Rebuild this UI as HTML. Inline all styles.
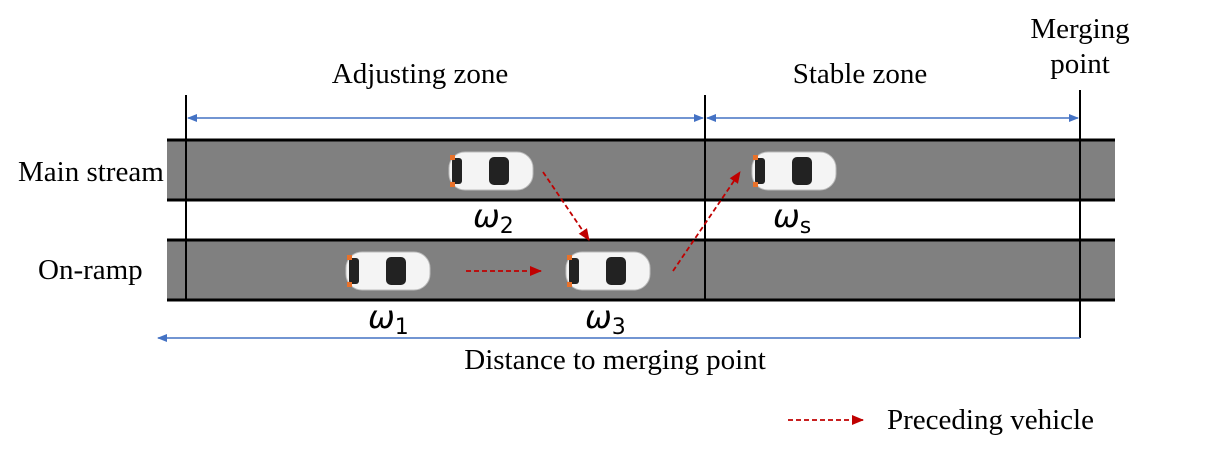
<!DOCTYPE html>
<html><head><meta charset="utf-8"><style>
body{margin:0;background:#fff}
svg text{font-family:"Liberation Serif",serif;font-size:29px;fill:#000}
.w{font-family:"DejaVu Sans","Liberation Sans",sans-serif;font-style:italic;font-size:32px}
.sub{font-size:22px;font-style:normal}
</style></head><body>
<svg width="1210" height="455" viewBox="0 0 1210 455">
<defs>
<marker id="ab" markerWidth="10" markerHeight="8" refX="9" refY="4" orient="auto-start-reverse" markerUnits="userSpaceOnUse"><path d="M0,0L10,4L0,8z" fill="#4472c4"/></marker>
<marker id="ar" markerWidth="12" markerHeight="10" refX="11" refY="5" orient="auto" markerUnits="userSpaceOnUse"><path d="M0,0L12,5L0,10z" fill="#c00000"/></marker>
<g id="car">
<rect x="0" y="0" width="84" height="38" rx="16" fill="#f4f4f4" stroke="#bbb"/>
<rect x="3" y="6" width="10" height="26" rx="3" fill="#222"/>
<rect x="40" y="5" width="20" height="28" rx="5" fill="#222"/>
<rect x="1" y="3" width="5" height="5" fill="#e8712a"/><rect x="1" y="30" width="5" height="5" fill="#e8712a"/>
</g>
</defs>
<g>
<rect x="167" y="140" width="948" height="60" fill="#808080"/>
<line x1="167" y1="140" x2="1115" y2="140" stroke="#000" stroke-width="3"/>
<line x1="167" y1="200" x2="1115" y2="200" stroke="#000" stroke-width="3"/>
</g>
<g>
<rect x="167" y="240" width="948" height="60" fill="#808080"/>
<line x1="167" y1="240" x2="1115" y2="240" stroke="#000" stroke-width="3"/>
<line x1="167" y1="300" x2="1115" y2="300" stroke="#000" stroke-width="3"/>
</g>
<line x1="186" y1="95" x2="186" y2="300" stroke="#000" stroke-width="2"/>
<line x1="705" y1="95" x2="705" y2="300" stroke="#000" stroke-width="2"/>
<line x1="1080" y1="90" x2="1080" y2="338" stroke="#000" stroke-width="2"/>
<line x1="188" y1="118" x2="703" y2="118" stroke="#4472c4" stroke-width="1.5" marker-start="url(#ab)" marker-end="url(#ab)"/>
<line x1="707" y1="118" x2="1078" y2="118" stroke="#4472c4" stroke-width="1.5" marker-start="url(#ab)" marker-end="url(#ab)"/>
<line x1="1080" y1="338" x2="158" y2="338" stroke="#4472c4" stroke-width="1.5" marker-end="url(#ab)"/>
<use href="#car" x="449" y="152"/>
<use href="#car" x="752" y="152"/>
<use href="#car" x="346" y="252"/>
<use href="#car" x="566" y="252"/>
<g stroke="#c00000" stroke-width="1.8" stroke-dasharray="5,3" fill="none">
<line x1="543" y1="172" x2="589" y2="240" marker-end="url(#ar)"/>
<line x1="466" y1="271" x2="541" y2="271" marker-end="url(#ar)"/>
<line x1="673" y1="271" x2="740" y2="172" marker-end="url(#ar)"/>
<line x1="788" y1="420" x2="863" y2="420" marker-end="url(#ar)"/>
</g>
<text x="420" y="83" text-anchor="middle">Adjusting zone</text>
<text x="860" y="83" text-anchor="middle">Stable zone</text>
<text x="1080" y="38" text-anchor="middle">Merging</text>
<text x="1080" y="73" text-anchor="middle">point</text>
<text x="18" y="181">Main stream</text>
<text x="38" y="279">On-ramp</text>
<text class="w" x="473" y="227">ω<tspan class="sub" dy="6">2</tspan></text>
<text class="w" x="773" y="227">ω<tspan class="sub" dy="6">s</tspan></text>
<text class="w" x="368" y="328">ω<tspan class="sub" dy="6">1</tspan></text>
<text class="w" x="585" y="328">ω<tspan class="sub" dy="6">3</tspan></text>
<text x="615" y="369" text-anchor="middle">Distance to merging point</text>
<text x="887" y="429">Preceding vehicle</text>
</svg>
</body></html>
